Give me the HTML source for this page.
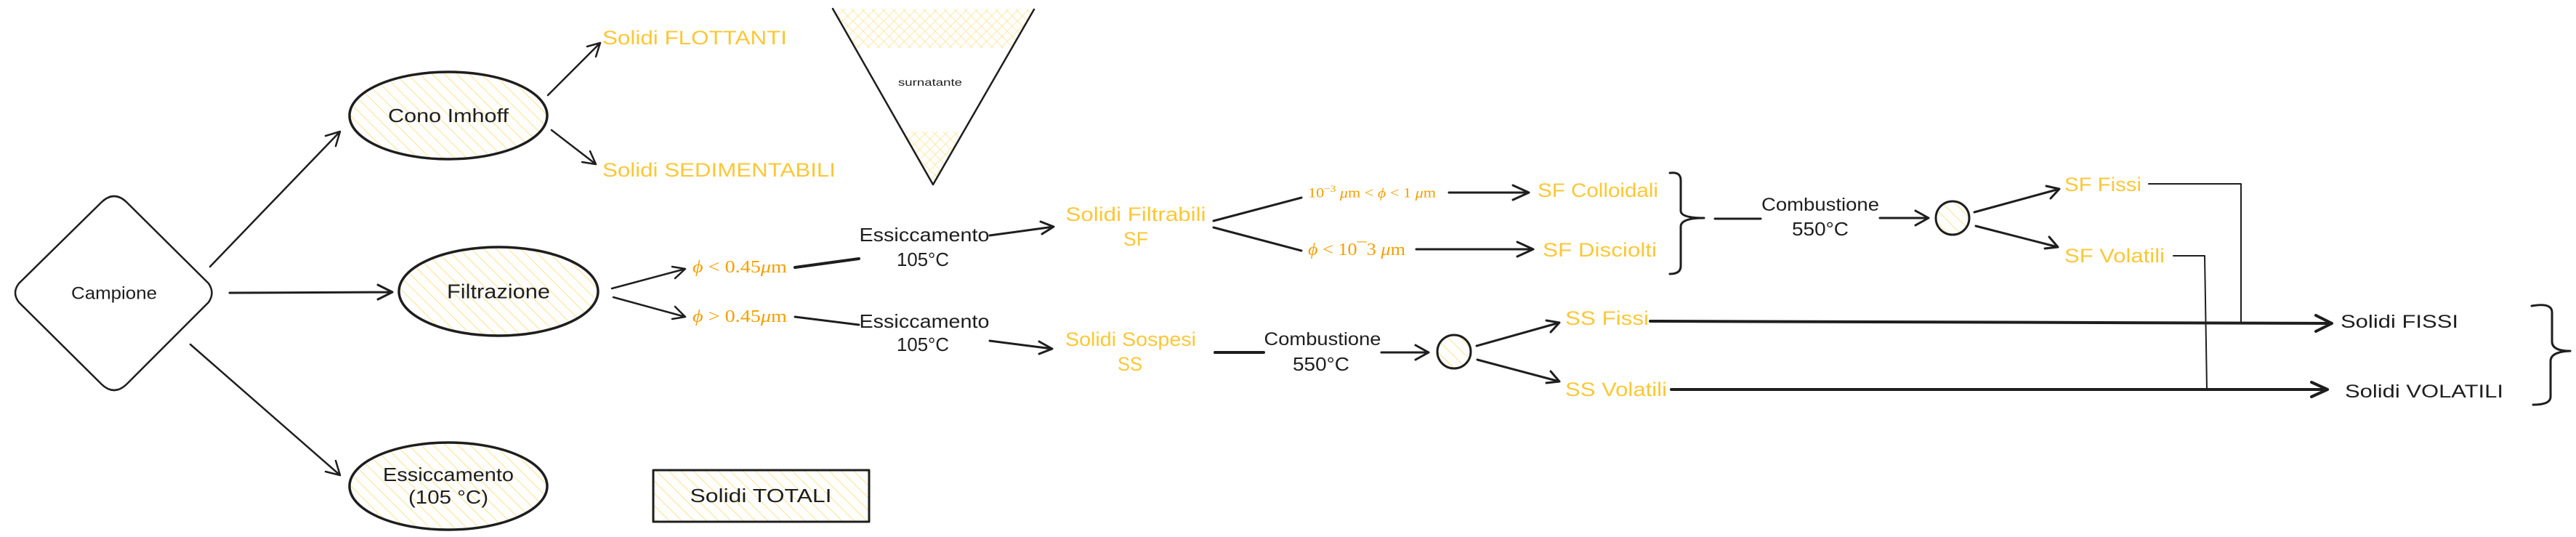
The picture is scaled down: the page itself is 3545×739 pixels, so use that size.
<!DOCTYPE html>
<html><head><meta charset="utf-8"><style>
html,body{margin:0;padding:0;background:#fff;}
svg{display:block;}
.t{font-family:"Liberation Sans",sans-serif;fill:#1e1e1e;dominant-baseline:central;}
.y{font-family:"Liberation Sans",sans-serif;fill:#fcc736;dominant-baseline:central;}
.m{font-family:"Liberation Serif",serif;fill:#f59f00;dominant-baseline:central;}
.l{stroke:#1e1e1e;stroke-width:2.5;fill:none;stroke-linecap:round;stroke-linejoin:round;}
.b{stroke:#1e1e1e;stroke-width:4;fill:none;stroke-linecap:round;stroke-linejoin:round;}
</style></head><body>
<svg width="3545" height="739" viewBox="0 0 3545 739" xmlns="http://www.w3.org/2000/svg">
<defs>
<pattern id="h" width="12" height="12" patternUnits="userSpaceOnUse" patternTransform="rotate(-45)">
<rect width="12" height="12" fill="#fff"/><line x1="0" y1="0" x2="0" y2="12" stroke="#ffe28a" stroke-width="2"/></pattern>
<pattern id="x" width="10" height="10" patternUnits="userSpaceOnUse" patternTransform="rotate(45)">
<rect width="10" height="10" fill="#fff"/><line x1="0" y1="0" x2="0" y2="10" stroke="#ffe28a" stroke-width="1.5"/><line x1="0" y1="0" x2="10" y2="0" stroke="#ffe28a" stroke-width="1.5"/></pattern>
</defs>

<!-- Diamond -->
<path class="l" d="M140 278 Q157 262 174 278 L287 390 Q296 403 287 416 L174 529 Q157 545 140 529 L26 416 Q16 403 26 390 Z"/>
<text class="t" x="157" y="404" text-anchor="middle" font-size="24" textLength="118" lengthAdjust="spacingAndGlyphs">Campione</text>

<!-- Ellipses -->
<ellipse cx="617" cy="159" rx="136" ry="60" class="l" style="stroke-width:3.5;fill:url(#h)"/>
<text class="t" x="617" y="159" text-anchor="middle" font-size="26" textLength="166" lengthAdjust="spacingAndGlyphs">Cono Imhoff</text>
<ellipse cx="686" cy="401" rx="137" ry="61" class="l" style="stroke-width:3.5;fill:url(#h)"/>
<text class="t" x="686" y="401" text-anchor="middle" font-size="28" textLength="142" lengthAdjust="spacingAndGlyphs">Filtrazione</text>
<ellipse cx="617" cy="669" rx="136" ry="60" class="l" style="stroke-width:3.5;fill:url(#h)"/>
<text class="t" x="617" y="653" text-anchor="middle" font-size="26" textLength="180" lengthAdjust="spacingAndGlyphs">Essiccamento</text>
<text class="t" x="617" y="684" text-anchor="middle" font-size="26" textLength="110" lengthAdjust="spacingAndGlyphs">(105 °C)</text>

<!-- Campione arrows -->
<path class="l" d="M289 367 L468 181 M448 187 L468 181 L462 201"/>
<path class="b" style="stroke-width:3" d="M316 403 L540 402 M520 392 L540 402 L520 412"/>
<path class="l" d="M262 474 L468 654 M462 634 L468 654 L448 649"/>

<!-- Cono arrows -->
<path class="l" d="M754 131 L826 59 M808 64 L826 59 L820 78"/>
<path class="l" d="M759 179 L820 226 M812 208 L820 226 L801 223"/>
<text class="y" x="829" y="52" font-size="27" textLength="254" lengthAdjust="spacingAndGlyphs">Solidi FLOTTANTI</text>
<text class="y" x="829" y="234" font-size="27" textLength="321" lengthAdjust="spacingAndGlyphs">Solidi SEDIMENTABILI</text>

<!-- Cone -->
<polygon points="1146,12 1423,13 1392,66 1177,66" style="fill:url(#x)"/>
<polygon points="1242,181 1326,181 1284,254" style="fill:url(#x)"/>
<path class="l" d="M1146 12 L1284 254 L1423 13"/>
<text class="t" x="1280" y="113" text-anchor="middle" font-size="14" textLength="88" lengthAdjust="spacingAndGlyphs">surnatante</text>

<!-- Filtrazione arrows -->
<path class="l" d="M842 397 L943 370 M925 367 L943 370 L929 383"/>
<path class="l" d="M844 409 L943 436 M929 422 L943 436 L925 439"/>
<text class="m" x="953" y="368" font-size="24" textLength="130" lengthAdjust="spacingAndGlyphs"><tspan font-style="italic">ϕ</tspan> &lt; 0.45<tspan font-style="italic">μ</tspan>m</text>
<text class="m" x="953" y="436" font-size="24" textLength="130" lengthAdjust="spacingAndGlyphs"><tspan font-style="italic">ϕ</tspan> &gt; 0.45<tspan font-style="italic">μ</tspan>m</text>
<path class="b" d="M1094 368 L1182 356"/>
<path class="b" d="M1094 436 L1182 447" style="stroke-width:3"/>

<!-- Essiccamento 105 -->
<text class="t" x="1272" y="323" text-anchor="middle" font-size="26" textLength="179" lengthAdjust="spacingAndGlyphs">Essiccamento</text>
<text class="t" x="1270" y="357" text-anchor="middle" font-size="26" textLength="72" lengthAdjust="spacingAndGlyphs">105°C</text>
<path class="l" style="stroke-width:3" d="M1362 324 L1450 312 M1432 305 L1450 312 L1434 322"/>
<text class="t" x="1272" y="442" text-anchor="middle" font-size="26" textLength="179" lengthAdjust="spacingAndGlyphs">Essiccamento</text>
<text class="t" x="1270" y="474" text-anchor="middle" font-size="26" textLength="72" lengthAdjust="spacingAndGlyphs">105°C</text>
<path class="l" style="stroke-width:3" d="M1362 469 L1448 480 M1430 470 L1448 480 L1430 487"/>

<text class="y" x="1563" y="295" text-anchor="middle" font-size="27" textLength="193" lengthAdjust="spacingAndGlyphs">Solidi Filtrabili</text>
<text class="y" x="1563" y="329" text-anchor="middle" font-size="27" textLength="34" lengthAdjust="spacingAndGlyphs">SF</text>
<text class="y" x="1556" y="467" text-anchor="middle" font-size="27" textLength="180" lengthAdjust="spacingAndGlyphs">Solidi Sospesi</text>
<text class="y" x="1555" y="501" text-anchor="middle" font-size="27" textLength="34" lengthAdjust="spacingAndGlyphs">SS</text>

<!-- SF branches -->
<path class="l" style="stroke-width:3" d="M1670 304 L1791 272"/>
<path class="l" style="stroke-width:3" d="M1670 313 L1791 345"/>
<text class="m" x="1800" y="266" font-size="19" textLength="176" lengthAdjust="spacingAndGlyphs">10<tspan dy="-7" font-size="13">−3</tspan><tspan dy="7"> </tspan><tspan font-style="italic">μ</tspan>m &lt; <tspan font-style="italic">ϕ</tspan> &lt; 1 <tspan font-style="italic">μ</tspan>m</text>
<text class="m" x="1800" y="344" font-size="24" textLength="134" lengthAdjust="spacingAndGlyphs"><tspan font-style="italic">ϕ</tspan> &lt; 10¯3 <tspan font-style="italic">μ</tspan>m</text>
<path class="b" style="stroke-width:3" d="M1994 265 L2104 265 M2082 255 L2104 265 L2082 275"/>
<path class="b" style="stroke-width:3" d="M1949 343 L2110 343 M2088 333 L2110 343 L2088 353"/>
<text class="y" x="2116" y="262" font-size="27" textLength="166" lengthAdjust="spacingAndGlyphs">SF Colloidali</text>
<text class="y" x="2123" y="344" font-size="27" textLength="157" lengthAdjust="spacingAndGlyphs">SF Disciolti</text>

<!-- brace 1 -->
<path class="l" style="stroke-width:3" d="M2298 238 Q2313 236 2313 248 L2313 290 Q2313 300 2345 300 Q2313 300 2313 312 L2313 366 Q2313 377 2298 377"/>
<path class="b" style="stroke-width:3" d="M2360 301 L2423 301"/>
<text class="t" x="2505" y="282" text-anchor="middle" font-size="25" textLength="162" lengthAdjust="spacingAndGlyphs">Combustione</text>
<text class="t" x="2505" y="315" text-anchor="middle" font-size="26" textLength="78" lengthAdjust="spacingAndGlyphs">550°C</text>
<path class="b" style="stroke-width:3" d="M2587 300 L2654 300 M2636 290 L2654 300 L2636 310"/>
<circle cx="2687" cy="300" r="23" class="l" style="stroke-width:3;fill:url(#h)"/>
<path class="b" style="stroke-width:3" d="M2717 292 L2834 260 M2816 256 L2834 260 L2822 273"/>
<path class="b" style="stroke-width:3" d="M2719 311 L2832 340 M2820 326 L2832 340 L2814 342"/>
<text class="y" x="2841" y="254" font-size="27" textLength="106" lengthAdjust="spacingAndGlyphs">SF Fissi</text>
<text class="y" x="2841" y="352" font-size="27" textLength="138" lengthAdjust="spacingAndGlyphs">SF Volatili</text>
<path class="l" style="stroke-width:2" d="M2957 253 L3084 253 L3084 444"/>
<path class="l" style="stroke-width:2" d="M2991 352 L3034 352 L3037 536"/>

<!-- SS branch -->
<path class="b" d="M1672 485 L1739 485"/>
<text class="t" x="1820" y="467" text-anchor="middle" font-size="25" textLength="161" lengthAdjust="spacingAndGlyphs">Combustione</text>
<text class="t" x="1818" y="501" text-anchor="middle" font-size="26" textLength="78" lengthAdjust="spacingAndGlyphs">550°C</text>
<path class="b" style="stroke-width:3" d="M1901 485 L1966 485 M1948 475 L1966 485 L1948 495"/>
<circle cx="2001" cy="484" r="23" class="l" style="stroke-width:3;fill:url(#h)"/>
<path class="b" style="stroke-width:3" d="M2032 476 L2146 444 M2128 441 L2146 444 L2134 457"/>
<path class="b" style="stroke-width:3" d="M2033 495 L2146 525 M2134 511 L2146 525 L2128 527"/>
<text class="y" x="2154" y="438" font-size="27" textLength="115" lengthAdjust="spacingAndGlyphs">SS Fissi</text>
<text class="y" x="2154" y="536" font-size="27" textLength="140" lengthAdjust="spacingAndGlyphs">SS Volatili</text>

<path class="b" d="M2271 442 L3209 445 M3187 434 L3209 445 L3187 456"/>
<path class="b" d="M2300 536 L3203 536 M3181 526 L3203 536 L3181 546"/>
<text class="t" x="3221" y="443" font-size="25" textLength="162" lengthAdjust="spacingAndGlyphs">Solidi FISSI</text>
<text class="t" x="3227" y="539" font-size="25" textLength="218" lengthAdjust="spacingAndGlyphs">Solidi VOLATILI</text>
<path class="l" style="stroke-width:3" d="M3484 421 Q3512 416 3512 430 L3512 470 Q3512 483 3537 483 Q3510 484 3510 497 L3510 546 Q3510 557 3486 557"/>

<!-- Solidi TOTALI -->
<rect x="899" y="647" width="297" height="71" class="l" style="stroke-width:3;fill:url(#h)"/>
<text class="t" x="1047" y="682" text-anchor="middle" font-size="26" textLength="195" lengthAdjust="spacingAndGlyphs">Solidi TOTALI</text>
</svg>
</body></html>
